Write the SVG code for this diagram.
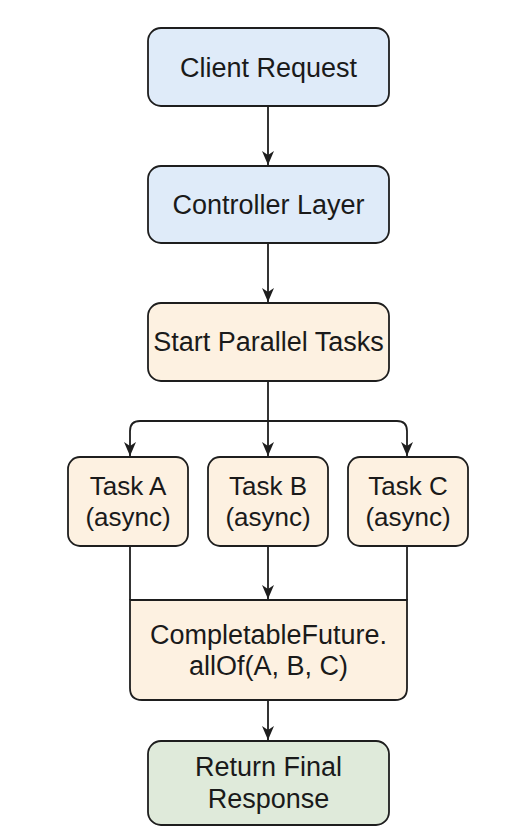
<svg xmlns="http://www.w3.org/2000/svg" width="530" height="828" viewBox="0 0 530 828">
<defs>
<style>
.box{stroke:#1e1e1e;stroke-width:1.8}
.blue{fill:#dfebf9}
.tan{fill:#fdf1e1}
.green{fill:#dfeada}
text{font-family:"Liberation Sans",Arial,sans-serif;font-size:27px;fill:#1a1a1a;text-anchor:middle}
.t25{font-size:26px}
.conn{fill:none;stroke:#1e1e1e;stroke-width:1.8}
</style>
<marker id="ahd" markerUnits="userSpaceOnUse" markerWidth="12" markerHeight="14" viewBox="0 0 12 14" refX="6" refY="14" orient="0">
<path d="M0,0 L6,4 L12,0 L6,14 Z" fill="#1e1e1e"/>
</marker>
</defs>
<rect width="530" height="828" fill="#ffffff"/>
<g id="connectors">
<line class="conn" x1="268" y1="107" x2="268" y2="165" marker-end="url(#ahd)"/>
<line class="conn" x1="268" y1="244" x2="268" y2="302" marker-end="url(#ahd)"/>
<line class="conn" x1="268" y1="382" x2="268" y2="456" marker-end="url(#ahd)"/>
<path class="conn" d="M268,421 H140 Q130,421 130,431 V456" marker-end="url(#ahd)"/>
<path class="conn" d="M268,421 H397 Q407,421 407,431 V456" marker-end="url(#ahd)"/>
<line class="conn" x1="130" y1="546" x2="130" y2="600"/>
<line class="conn" x1="407" y1="546" x2="407" y2="600"/>
<line class="conn" x1="268" y1="546" x2="268" y2="599" marker-end="url(#ahd)"/>
<line class="conn" x1="268" y1="700" x2="268" y2="740" marker-end="url(#ahd)"/>
</g>
<g id="client-request">
<rect class="box blue" x="148" y="28" width="241" height="78" rx="13"/>
<text x="268.5" y="77">Client Request</text>
</g>
<g id="controller-layer">
<rect class="box blue" x="148" y="166" width="241" height="77" rx="13"/>
<text x="268.5" y="214">Controller Layer</text>
</g>
<g id="start-parallel-tasks">
<rect class="box tan" x="148" y="303" width="241" height="78" rx="13"/>
<text x="268.5" y="351">Start Parallel Tasks</text>
</g>
<g id="task-a">
<rect class="box tan" x="68" y="457" width="120" height="89" rx="12"/>
<text class="t25" x="128" y="495">Task A</text>
<text class="t25" x="128" y="526">(async)</text>
</g>
<g id="task-b">
<rect class="box tan" x="208" y="457" width="120" height="89" rx="12"/>
<text class="t25" x="268" y="495">Task B</text>
<text class="t25" x="268" y="526">(async)</text>
</g>
<g id="task-c">
<rect class="box tan" x="348" y="457" width="120" height="89" rx="12"/>
<text class="t25" x="408" y="495">Task C</text>
<text class="t25" x="408" y="526">(async)</text>
</g>
<g id="completable-future">
<path class="box tan" d="M130,600 H407 V688 Q407,700 395,700 H142 Q130,700 130,688 Z"/>
<text x="268.5" y="644">CompletableFuture.</text>
<text x="268.5" y="675">allOf(A, B, C)</text>
</g>
<g id="return-final-response">
<rect class="box green" x="148" y="741" width="241" height="84" rx="13"/>
<text x="268.5" y="776">Return Final</text>
<text x="268.5" y="808">Response</text>
</g>
</svg>
